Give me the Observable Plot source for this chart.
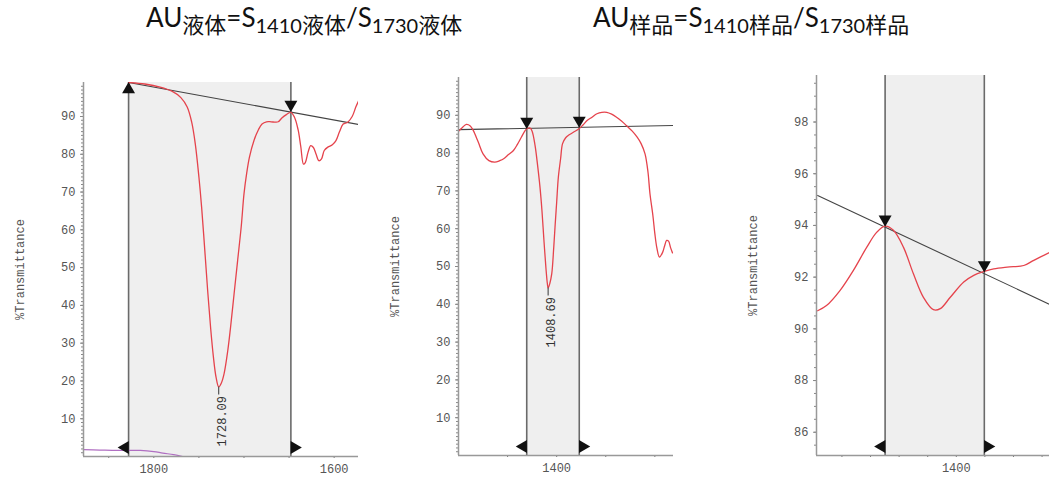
<!DOCTYPE html>
<html><head><meta charset="utf-8">
<script src="https://cdn.jsdelivr.net/npm/d3@7"></script>
<script src="https://cdn.jsdelivr.net/npm/@observablehq/plot@0.6"></script>
<style>
html,body{margin:0;padding:0;}
body{width:1049px;height:483px;overflow:hidden;background:#fff;position:relative;}
.title{position:absolute;font-family:Lato,"Noto Sans CJK SC",sans-serif;font-size:26px;line-height:30px;color:#111;white-space:nowrap;}
.title .c{font-size:22px;position:relative;top:6px;font-family:"Noto Sans CJK SC",sans-serif;}
.title .d{font-size:20px;position:relative;top:6px;}
.panel{position:absolute;top:60px;}
.panel svg{max-width:none;background:transparent;}
</style></head><body>
<div class="title" style="left:146px;top:2px">AU<span class="c">液体</span>=S<span class="d">1410</span><span class="c">液体</span>/S<span class="d">1730</span><span class="c">液体</span></div>
<div class="title" style="left:593px;top:2px">AU<span class="c">样品</span>=S<span class="d">1410</span><span class="c">样品</span>/S<span class="d">1730</span><span class="c">样品</span></div>
<div id="p1" class="panel" style="left:0px"></div>
<div id="p2" class="panel" style="left:370px"></div>
<div id="p3" class="panel" style="left:700px"></div>
<script>
// ---------- data ----------
// Panel 1: liquid, 1730 band
const liquid1 = [[1828,99.0],[1810,98.6],[1793,97.8],[1780,96.7],[1770,95.0],[1763,92.5],[1758,88.5],[1754,82.7],[1750,74],[1747,66],[1743,53],[1740,43],[1737,34],[1734,26.5],[1731,21],[1728,18.4],[1725,19.5],[1722,22],[1718,28],[1715,34],[1711,43],[1707,52],[1703,61],[1700,69.5],[1697,75],[1694,79.2],[1689,83.6],[1684,86.5],[1680,88],[1675,88.6],[1670,88.6],[1665,88.5],[1662,88.6],[1658,89.6],[1653,90.5],[1648,91.1],[1644,89.8],[1640,86.5],[1637,82],[1634,77.4],[1632,77.8],[1629,80.5],[1626,82.3],[1623,81.8],[1620,80],[1617,78.3],[1614,78.8],[1611,81],[1607,81.9],[1602,82.5],[1598,83.6],[1594,86],[1590,88],[1585,88.5],[1580,90],[1576,92.5],[1573,94.1]];
const purple1 = [[1878,1.8],[1860,1.7],[1840,1.6],[1815,1.6],[1800,1.3],[1790,0.9],[1778,0.5],[1768,0]];
const baseline1 = [[1828,99.0],[1573,87.9]];
const bounds1 = [1828,1648];
const upMarks1 = [{x:1828,y:99.0}];
const downMarks1 = [{x:1648,y:91.3}];
const peaks1 = [{x:1728.09,y:18.4,label:"1728.09"}];
const xTicks1 = [1850,1800,1750,1700,1650,1600];
const xLabels1 = [1800,1600];
const yMajor1 = [10,20,30,40,50,60,70,80,90];
const yMinor1 = d3.range(1,99,1);

// Panel 2: liquid, 1410 band
const liquid2 = [[1500,85.8],[1496,86.8],[1492,87.6],[1488,87.2],[1485,86],[1480,83],[1475,79.8],[1469,78],[1463,77.6],[1458,78],[1454,78.5],[1449,79.6],[1444,80.7],[1440,82.3],[1436,84.2],[1432,86],[1430,86.5],[1427,86.6],[1425,85.8],[1422,82],[1420,78],[1417,71],[1415,64.8],[1413,57],[1411,49.8],[1409.5,45.5],[1408.7,44.3],[1407,45.5],[1405,48.1],[1403,55],[1401.7,60.4],[1400,67],[1398.3,73.6],[1396,78.5],[1394,82.5],[1391,84],[1388,84.7],[1383,85.5],[1377,86.5],[1373,87.5],[1369,88.6],[1364,89.5],[1359,90.4],[1354,90.8],[1349,90.8],[1344,90.3],[1339,89.5],[1334,88.5],[1329,87.3],[1323,85.8],[1318,84.2],[1314,82.5],[1310,79.8],[1307,75],[1305,69.3],[1302,63.5],[1300,58.7],[1298,55],[1295.3,52.5],[1292,53.8],[1290,55.5],[1288,56.9],[1286,56.7],[1284,55],[1282,53.6]];
const baseline2 = [[1500,86.2],[1281,87.3]];
const bounds2 = [1430.5,1377];
const upMarks2 = [];
const downMarks2 = [{x:1430.5,y:86.5},{x:1377,y:86.8}];
const peaks2 = [{x:1408.69,y:44.3,label:"1408.69"}];
const xTicks2 = [1450,1400,1350,1300];
const xLabels2 = [1400];
const yMajor2 = [10,20,30,40,50,60,70,80,90];
const yMinor2 = d3.range(1,100,1);

// Panel 3: sample, 1410 band
const sample3 = [[1448.5,90.7],[1445.4,90.9],[1440.7,91.48],[1436,92.26],[1431.3,93.16],[1427.8,93.74],[1424.9,93.97],[1422,93.81],[1418.5,93.16],[1415,92.13],[1411.5,91.22],[1408,90.74],[1405.6,90.78],[1402.1,91.22],[1397.4,91.81],[1393.9,92.07],[1390.2,92.22],[1386.9,92.32],[1382.2,92.39],[1376.4,92.45],[1372.9,92.65],[1367.4,92.95]];
const baseline3 = [[1448.5,95.16],[1367.4,90.95]];
const bounds3 = [1424.9,1390.2];
const upMarks3 = [];
const downMarks3 = [{x:1424.9,y:93.97},{x:1390.2,y:92.2}];
const peaks3 = [];
const xTicks3 = [1440,1430,1420,1410,1400,1390,1380,1370];
const xLabels3 = [1400];
const yMajor3 = [86,88,90,92,94,96,98];
const yMinor3 = d3.range(85.5,99.8,0.5);

// ---------- drawing ----------
const RED = "#e5434c", MONO = "Liberation Mono, monospace";
const TRI = {symbol: "triangle", r: 4.8, fill: "#111", stroke: "none"};

function panel(o) {
  const fmt = d => o.xLabels.includes(d) ? String(d) : "";
  const marks = [
    Plot.rect([o.bounds], {x1: d => d[0], x2: d => d[1], fill: "#efefef"}),
    Plot.ruleX(o.bounds, {stroke: "#6a6a6a", strokeWidth: 1.6}),
    Plot.line(o.baseline, {x: d => d[0], y: d => d[1], stroke: "#444", strokeWidth: 1.1, clip: true}),
  ];
  if (o.extra) marks.push(Plot.line(o.extra, {x: d => d[0], y: d => d[1], stroke: "#b06fc2", strokeWidth: 1.2, curve: "catmull-rom", clip: true}));
  marks.push(
    Plot.line(o.curve, {x: d => d[0], y: d => d[1], stroke: RED, strokeWidth: 1.3, curve: "catmull-rom", clip: true}),
    Plot.dot(o.upMarks, {x: "x", y: "y", ...TRI, rotate: 0, dy: 7}),
    Plot.dot(o.downMarks, {x: "x", y: "y", ...TRI, rotate: 180, dy: -7}),
    Plot.dot([o.bounds[0]], {x: d => d, frameAnchor: "bottom", ...TRI, rotate: -90, dx: -3.5, dy: -9}),
    Plot.dot([o.bounds[1]], {x: d => d, frameAnchor: "bottom", ...TRI, rotate: 90, dx: 3.5, dy: -9}),
    Plot.ruleX(o.peaks, {x: "x", y1: "y", y2: "y", insetTop: 0, insetBottom: -8, stroke: "#555", strokeWidth: 1.2}),
    Plot.text(o.peaks, {x: "x", y: "y", text: "label", rotate: -90, textAnchor: "end", dx: 3, dy: 9, fill: "#333", fontFamily: MONO, fontSize: 12}),
    Plot.axisY({ticks: o.yMinor, tickSize: 2, tickFormat: () => "", label: null, stroke: "#888"}),
    Plot.axisY({ticks: o.yMajor, tickSize: 3, tickPadding: 5, tickFormat: d => String(d), stroke: "#888", fill: "#555",
      label: "%Transmittance", labelAnchor: "center", labelOffset: 68, labelArrow: "none"}),
    Plot.axisX({ticks: o.xTicks, tickSize: 2, tickPadding: 6, tickFormat: fmt, stroke: "#777", fill: "#555", label: null}),
    Plot.ruleX([o.xDomain[0]], {stroke: "#999", strokeWidth: 1.5}),
    Plot.ruleY([o.yDomain[0]], {stroke: "#999", strokeWidth: 1.5})
  );
  const svg = Plot.plot({
    width: o.width, height: 423,
    marginLeft: o.m[0], marginRight: o.m[1], marginTop: o.m[2], marginBottom: o.m[3],
    x: {domain: o.xDomain},
    y: {domain: o.yDomain},
    style: {fontFamily: MONO, fontSize: "12px", color: "#555", background: "transparent", overflow: "visible"},
    marks
  });
  document.getElementById(o.id).appendChild(svg);
}

panel({id: "p1", width: 370, m: [83, 12, 22, 27], xDomain: [1878, 1573], yDomain: [0, 99],
  curve: liquid1, extra: purple1, baseline: baseline1, bounds: bounds1, upMarks: upMarks1, downMarks: downMarks1, peaks: peaks1,
  xTicks: xTicks1, xLabels: xLabels1, yMajor: yMajor1, yMinor: yMinor1});
panel({id: "p2", width: 320, m: [88, 17, 17, 28], xDomain: [1500, 1281], yDomain: [0, 100],
  curve: liquid2, baseline: baseline2, bounds: bounds2, upMarks: upMarks2, downMarks: downMarks2, peaks: peaks2,
  xTicks: xTicks2, xLabels: xLabels2, yMajor: yMajor2, yMinor: yMinor2});
panel({id: "p3", width: 349, m: [116, 0, 15, 28], xDomain: [1448.9, 1367.4], yDomain: [85.1, 99.8],
  curve: sample3, baseline: baseline3, bounds: bounds3, upMarks: upMarks3, downMarks: downMarks3, peaks: peaks3,
  xTicks: xTicks3, xLabels: xLabels3, yMajor: yMajor3, yMinor: yMinor3});
</script>
</body></html>
